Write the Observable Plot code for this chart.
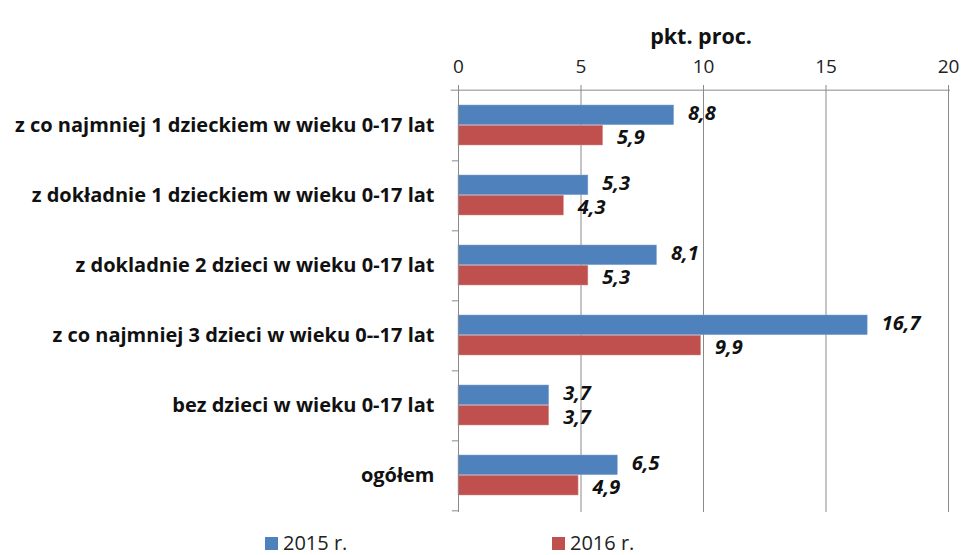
<!DOCTYPE html>
<html>
<head>
<meta charset="utf-8">
<script src="https://cdn.jsdelivr.net/npm/d3@7"></script>
<script src="https://cdn.jsdelivr.net/npm/@observablehq/plot@0.6"></script>
<style>
  body { margin: 0; background: #fff; font-family: "Open Sans", sans-serif; }
  #legend { position: relative; height: 35px; width: 964px; font-size: 20px; color: #222; }
  .item { position: absolute; top: 13px; display: flex; align-items: center; line-height: 20px; }
  .sw { width: 13px; height: 13px; margin-right: 5px; }
</style>
</head>
<body>
<div id="chart"></div>
<div id="legend"></div>
<script>
const categories = [
  "z co najmniej 1 dzieckiem w wieku 0-17 lat",
  "z dokładnie 1 dzieckiem w wieku 0-17 lat",
  "z dokladnie 2 dzieci w wieku 0-17 lat",
  "z co najmniej 3 dzieci w wieku 0--17 lat",
  "bez dzieci w wieku 0-17 lat",
  "ogółem"
];
const values2015 = [8.8, 5.3, 8.1, 16.7, 3.7, 6.5];
const values2016 = [5.9, 4.3, 5.3, 9.9, 3.7, 4.9];
const series = ["2015 r.", "2016 r."];
const colors = ["#4F81BD", "#C0504D"];
const xTicks = [0, 5, 10, 15, 20];

const rows = categories.flatMap((c, i) => [
  {category: c, series: series[0], value: values2015[i]},
  {category: c, series: series[1], value: values2016[i]}
]);

const marginTop = 88, plotBottom = 512, svgHeight = 520;
const band = (plotBottom - marginTop) / categories.length;
const fmt = v => v.toFixed(1).replace(".", ",");
const gap = 15; // outer gap inside each band
const half = band / 2;
const font = "'Open Sans', sans-serif";

const chart = Plot.plot({
  width: 964,
  height: svgHeight,
  marginTop,
  marginBottom: svgHeight - plotBottom,
  marginLeft: 458,
  marginRight: 16,
  style: {fontFamily: font, color: "#111"},
  x: {domain: [0, 20], ticks: xTicks, axis: "top", tickSize: 0, tickPadding: 16, label: null, tickFormat: d => d},
  y: {domain: categories, padding: 0, label: null, tickSize: 0, tickPadding: 24},
  marks: [
    Plot.ruleX(xTicks, {x: d => d, stroke: "#8a8a8a", strokeWidth: 1, strokeOpacity: 1, insetTop: -3}),
    Plot.barX(rows.filter(d => d.series === series[0]), {
      y: "category", x: "value", fill: colors[0],
      insetTop: gap, insetBottom: half, stroke: "#7fa4d3", strokeWidth: 0.5
    }),
    Plot.barX(rows.filter(d => d.series === series[1]), {
      y: "category", x: "value", fill: colors[1],
      insetTop: half, insetBottom: gap, stroke: "#d68a88", strokeWidth: 0.5
    }),
    Plot.text(rows.filter(d => d.series === series[0]), {
      y: "category", x: "value", text: d => fmt(d.value), dx: 14, dy: -12,
      textAnchor: "start", fontWeight: "bold", fontStyle: "italic", fontSize: 20, fill: "#111"
    }),
    Plot.text(rows.filter(d => d.series === series[1]), {
      y: "category", x: "value", text: d => fmt(d.value), dx: 14, dy: 12,
      textAnchor: "start", fontWeight: "bold", fontStyle: "italic", fontSize: 20, fill: "#111"
    }),
    // axis line at top and vertical axis line
    Plot.ruleY([categories[0]], {y: d => d, dy: -half, x1: -0.3, x2: 20.08, stroke: "#8a8a8a"}),
    Plot.ruleY(categories, {y: d => d, dy: half, x1: -0.25, x2: 0, stroke: "#8a8a8a"}),
    Plot.ruleX([0], {x: d => d, stroke: "#8a8a8a"}),
    Plot.text(["pkt. proc."], {frameAnchor: "top", dy: -60, x: 9.9, text: d => d, fontWeight: "bold", fontSize: 21.5, fill: "#111"})
  ]
});

chart.querySelectorAll('[aria-label="y-axis tick label"] text').forEach(t => {
  t.setAttribute("font-weight", "bold"); t.setAttribute("font-size", "20");
});
chart.querySelectorAll('[aria-label="x-axis tick label"] text').forEach(t => {
  t.setAttribute("font-size", "19"); t.setAttribute("fill", "#222");
});
document.getElementById("chart").append(chart);

const legend = document.getElementById("legend");
const pos = [265, 552];
series.forEach((s, i) => {
  const it = document.createElement("div");
  it.className = "item";
  it.style.left = pos[i] + "px";
  it.innerHTML = `<span class="sw" style="background:${colors[i]}"></span><span>${s}</span>`;
  legend.append(it);
});
</script>
</body>
</html>
